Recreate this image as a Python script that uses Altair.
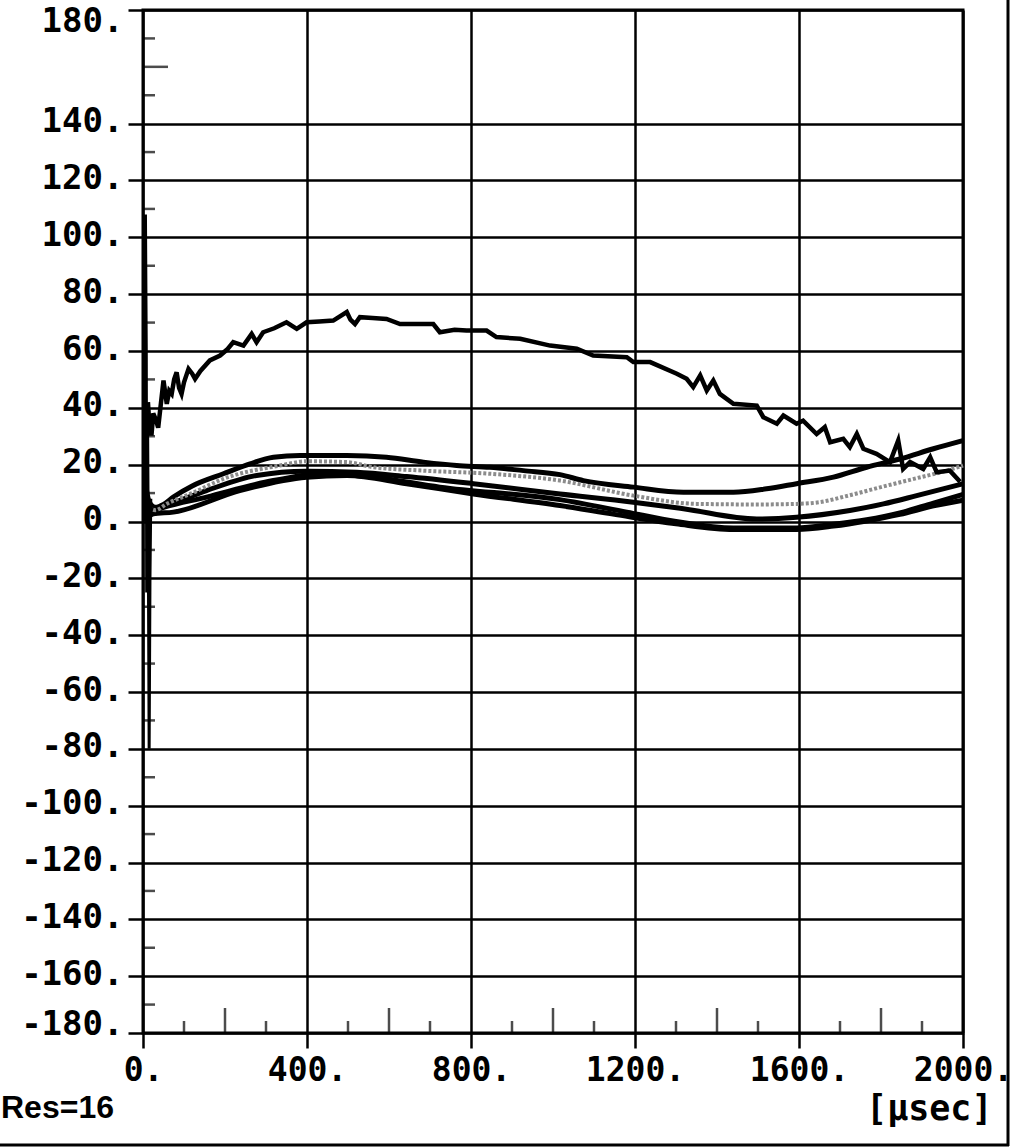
import altair as alt
import pandas as pd

# ---------------- data ----------------
X_TICKS = [0, 400, 800, 1200, 1600, 2000]
Y_TICKS = [-180, -160, -140, -120, -100, -80, -60, -40, -20, 0, 20, 40, 60, 80, 100, 120, 140, 180]
X_MINOR_SHORT = [100, 300, 500, 700, 900, 1100, 1300, 1500, 1700, 1900]
X_MINOR_TALL = [200, 600, 1000, 1400, 1800]
Y_MINOR_SHORT = [-170, -150, -130, -110, -90, -70, -50, -30, -10, 10, 30, 50, 70, 90, 110, 130, 150, 170]
Y_MINOR_TALL = [160]

SPIKE_X = [3, 6, 8, 9, 11, 13, 15, 17, 19]
SPIKE_Y = [0, 108, 60, -25, 40, -10, -80, -20, 8]

TOP_X = [12, 17, 21, 25, 31, 37, 44, 50, 58, 64, 70, 76, 82, 88, 94, 100, 111, 120, 127, 140,
         163, 188, 205, 220, 245, 265, 277, 293, 320, 350, 375, 399, 430, 464, 497, 506, 517,
         529, 560, 594, 627, 660, 708, 724, 760, 789, 838, 862, 920, 993, 1058, 1098, 1180,
         1196, 1237, 1302, 1326, 1342, 1359, 1375, 1391, 1407, 1440, 1497, 1513, 1546, 1562,
         1594, 1610, 1643, 1663, 1676, 1708, 1724, 1741, 1757, 1789, 1822, 1842, 1854, 1871,
         1903, 1920, 1936, 1968, 1993]
TOP_Y = [42, 31, 31, 38, 36, 33, 42, 49.6, 41.4, 46, 44.9, 50, 52.5, 47, 44.9, 49, 53.7, 52, 50.2, 53,
         56.7, 58.4, 60.5, 63.1, 61.9, 66.0, 63.1, 66.6, 68, 70.1, 67.8, 70.1, 70.4, 70.7, 73.7, 71, 69.5,
         71.9, 71.6, 71.3, 69.5, 69.5, 69.5, 66.6, 67.5, 67.2, 67.2, 64.9, 64.3, 61.9, 60.8, 58.4, 57.8,
         56.1, 56.1, 52.0, 50.2, 47.3, 51.4, 46.1, 49.6, 44.9, 41.4, 40.8, 36.7, 34.4, 37.3,
         34.4, 35.5, 30.8, 33.2, 27.9, 29.1, 26.2, 30.8, 25.6, 23.8, 20.9, 28.5, 18.5, 20.9,
         18.5, 22.6, 17.3, 17.9, 14]

A_X = [5, 15, 30, 50, 74, 120, 196, 261, 318, 383, 497, 594, 684, 765, 846, 928, 1017, 1074,
       1196, 1318, 1440, 1521, 1594, 1684, 1765, 1846, 1928, 2000]
A_Y = [14, 7, 5, 6, 8.6, 12.5, 16.8, 20.3, 22.6, 23.2, 23.2, 22.6, 20.9, 19.7, 19.1, 17.9, 16.5, 14.4,
       12.1, 10.3, 10.3, 11.5, 13.3, 15.6, 19.1, 22.0, 25.6, 28.5]

B_X = [5, 15, 30, 58, 120, 196, 334, 399, 497, 562, 684, 846, 1017, 1196, 1350, 1500, 1594,
       1650, 1720, 1800, 1880, 1960, 2000]
B_Y = [12, 5, 4, 6.2, 10, 15.0, 19.7, 21.2, 20.9, 19.1, 17.9, 16.8, 14.4, 9.1, 6.2, 6.0, 6.2,
       6.8, 9.1, 12.1, 15.0, 17.9, 19.7]

C_X = [5, 15, 41, 155, 277, 399, 521, 643, 806, 1017, 1196, 1318, 1497, 1594, 1724, 1806, 1887, 2000]
C_Y = [10, 4, 5.0, 10.9, 16.2, 17.7, 17.3, 15.8, 13.3, 9.7, 6.8, 4.5, 0.9, 1.5, 3.9, 6.2, 9.1, 13.3]

E_X = [5, 15, 41, 155, 318, 440, 562, 724, 1017, 1180, 1300, 1440, 1594, 1684, 1765, 1846, 1928, 2000]
E_Y = [9, 3, 4.5, 8.6, 14.4, 16.8, 15.6, 12.1, 7.7, 3.3, 0, -2.3, -2.3, -1.0, 0.6, 3.0, 6.5, 9.5]

D_X = [5, 15, 25, 74, 236, 399, 497, 643, 806, 1017, 1150, 1300, 1440, 1594, 1684, 1765, 1846, 1928, 2000]
D_Y = [8, 2, 2.7, 3.3, 10.9, 15.6, 16.2, 13.3, 9.7, 5.6, 2.5, -0.8, -2.8, -2.8, -1.6, 0.2, 2.5, 5.5, 7.5]

NOTE_TEXT = ["Res=16"]
X_UNIT = "[µsec]"

# ---------------- tables ----------------
def series(name, xs, ys):
    return pd.DataFrame({"t": xs, "v": ys, "s": name})

black = pd.concat([series("A", A_X, A_Y), series("C", C_X, C_Y),
                   series("E", E_X, E_Y), series("D", D_X, D_Y)])
gray = series("B", B_X, B_Y)
top = series("top", TOP_X, TOP_Y)
spike = series("spike", SPIKE_X, SPIKE_Y)

xs_short = pd.DataFrame({"t": X_MINOR_SHORT, "v": -180})
xs_tall = pd.DataFrame({"t": X_MINOR_TALL, "v": -180})
ys_short = pd.DataFrame({"t": 0, "v": Y_MINOR_SHORT})
ys_tall = pd.DataFrame({"t": 0, "v": Y_MINOR_TALL})

MONO = "DejaVu Sans Mono"
xscale = alt.Scale(domain=[0, 2000], nice=False, zero=False)
yscale = alt.Scale(domain=[-180, 180], nice=False, zero=False)

xaxis = alt.Axis(values=X_TICKS, labelExpr="datum.value + '.'", tickSize=15, tickWidth=2.5,
                 tickColor="black", domain=False, grid=True, gridColor="black", gridWidth=2.5,
                 gridOpacity=1, labelFont=MONO, labelFontWeight="bold", labelFontSize=33,
                 labelColor="black", labelPadding=6, labelOverlap=False, labelBaseline="top",
                 labelFlush=False,
                 title=X_UNIT, titleFont=MONO, titleFontWeight="bold", titleFontSize=35,
                 titleColor="black", titleAnchor="end", titleAlign="right", titleX=849,
                 titleY=86, titleBaseline="alphabetic")
yaxis = alt.Axis(values=Y_TICKS, labelExpr="datum.value + '.'", tickSize=15, tickWidth=2.5,
                 tickColor="black", domain=False, grid=True, gridColor="black", gridWidth=2.5,
                 gridOpacity=1, labelFont=MONO, labelFontWeight="bold", labelFontSize=34,
                 labelColor="black", labelPadding=5, labelOverlap=False, labelBaseline="middle",
                 labelFlush=False,
                 labelOffset=alt.ExprRef(expr="datum.value == 180 ? 11 : (datum.value == -180 ? -9 : -2)"),
                 title=None)

base = alt.Chart(black).mark_line(color="black", strokeWidth=5, interpolate="monotone").encode(
    x=alt.X("t:Q", scale=xscale, axis=xaxis),
    y=alt.Y("v:Q", scale=yscale, axis=yaxis),
    detail="s:N",
)

def enc(ch):
    return ch.encode(x=alt.X("t:Q", scale=xscale), y=alt.Y("v:Q", scale=yscale))

gray_line = enc(alt.Chart(gray).mark_line(color="#8c8c8c", strokeWidth=4, strokeDash=[3, 2],
                                         interpolate="monotone"))
top_line = enc(alt.Chart(top).mark_line(color="black", strokeWidth=4.5))
spike_line = enc(alt.Chart(spike).mark_line(color="black", strokeWidth=3))

t1 = enc(alt.Chart(xs_short).mark_tick(orient="vertical", size=12, yOffset=-6, thickness=2.5, color="black"))
t2 = enc(alt.Chart(xs_tall).mark_tick(orient="vertical", size=25, yOffset=-12.5, thickness=2.5, color="black"))
t3 = enc(alt.Chart(ys_short).mark_tick(orient="horizontal", size=12, xOffset=6, thickness=2.5, color="black"))
t4 = enc(alt.Chart(ys_tall).mark_tick(orient="horizontal", size=25, xOffset=12.5, thickness=2.5, color="black"))

note = alt.Chart(pd.DataFrame({"n": NOTE_TEXT})).mark_text(
    align="left", baseline="alphabetic", font="Liberation Sans", fontWeight="bold",
    fontSize=32, color="black").encode(text="n:N", x=alt.value(-142), y=alt.value(1108))

frame_r = alt.Chart(pd.DataFrame({"n": [0]})).mark_rule(color="black", strokeWidth=3).encode(
    x=alt.value(865), y=alt.value(-12), y2=alt.value(1136))
frame_b = alt.Chart(pd.DataFrame({"n": [0]})).mark_rule(color="black", strokeWidth=3).encode(
    x=alt.value(-145), x2=alt.value(866), y=alt.value(1135))

chart = alt.layer(base, gray_line, top_line, spike_line, t1, t2, t3, t4, note, frame_r, frame_b).properties(
    width=820, height=1023,
    padding={"left": 143, "top": 10, "right": 50, "bottom": 115},
    autosize=alt.AutoSizeParams(type="none"),
    background="white",
).configure_view(stroke="black", strokeWidth=3)

chart.save("out.html", embed_options={"renderer": "svg", "actions": False})
